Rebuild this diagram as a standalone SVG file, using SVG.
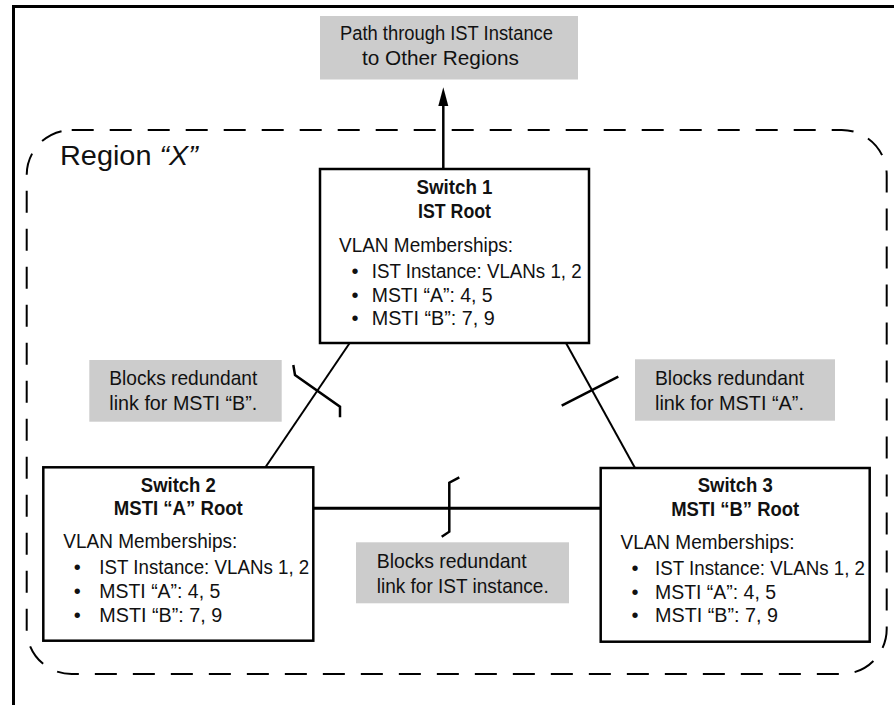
<svg xmlns="http://www.w3.org/2000/svg" width="894" height="705" viewBox="0 0 894 705">
<style>
text{font-family:"Liberation Sans",Arial,sans-serif;fill:#111}
.t{font-size:20px}
.b{font-size:20px;font-weight:bold;text-anchor:middle}
.g{font-size:21px}
.bl{font-size:20px;text-anchor:middle}
.box{fill:#fff;stroke:#000;stroke-width:2.5}
.note{fill:#cccccc}
.ln{stroke:#000;fill:none;stroke-linecap:butt}
</style>
<rect x="0" y="0" width="894" height="705" fill="#fff"/>
<g id="frame">
<line x1="12" y1="6.5" x2="894" y2="6.5" stroke="#000" stroke-width="3"/>
<line x1="13.5" y1="5" x2="13.5" y2="705" stroke="#000" stroke-width="3"/>
</g>
<g id="region">
<rect x="26.7" y="130" width="860" height="544" rx="45" ry="45" fill="none" stroke="#000" stroke-width="2" stroke-dasharray="22 16"/>
<text x="60" y="165" font-size="28" textLength="138" lengthAdjust="spacingAndGlyphs">Region <tspan font-style="italic">“X”</tspan></text>
</g>
<g id="path-note">
<rect class="note" x="320" y="16" width="258" height="63.5"/>
<text class="t" x="340" y="40" textLength="213" lengthAdjust="spacingAndGlyphs">Path through IST Instance</text>
<text class="t" x="362" y="65" textLength="157" lengthAdjust="spacingAndGlyphs">to Other Regions</text>
</g>
<g id="connectors">
<line class="ln" x1="443.3" y1="169" x2="443.3" y2="104" stroke-width="2.5"/>
<polygon points="443.3,87.3 438.3,106 448.3,106" fill="#000"/>
<line class="ln" x1="349.7" y1="343" x2="265.6" y2="467" stroke-width="2"/>
<line class="ln" x1="566" y1="343" x2="635" y2="468" stroke-width="2"/>
<line class="ln" x1="313.3" y1="508.3" x2="600.7" y2="508.3" stroke-width="3"/>
<polyline class="ln" points="293.3,365 295,375 340,406.7 340,417.3" stroke-width="2.5"/>
<line class="ln" x1="561.7" y1="405.7" x2="618.3" y2="376.7" stroke-width="2.5"/>
<polyline class="ln" points="459.3,477.3 449.3,482.7 449.3,531.7 441.7,536.7" stroke-width="2.5"/>
</g>
<g id="switch1">
<rect class="box" x="320" y="169" width="269" height="174"/>
<text class="b" x="454.5" y="194" textLength="76" lengthAdjust="spacingAndGlyphs">Switch 1</text>
<text class="b" x="454.5" y="218" textLength="73" lengthAdjust="spacingAndGlyphs">IST Root</text>
<text class="t" x="339" y="251.7" textLength="174" lengthAdjust="spacingAndGlyphs">VLAN Memberships:</text>
<text class="bl" x="355" y="277.7">•</text>
<text class="bl" x="355" y="301.7">•</text>
<text class="bl" x="355" y="325.3">•</text>
<text class="t" x="371.7" y="277.7" textLength="210" lengthAdjust="spacingAndGlyphs">IST Instance: VLANs 1, 2</text>
<text class="t" x="371.7" y="301.7" textLength="121" lengthAdjust="spacingAndGlyphs">MSTI “A”: 4, 5</text>
<text class="t" x="371.7" y="325.3" textLength="123" lengthAdjust="spacingAndGlyphs">MSTI “B”: 7, 9</text>
</g>
<g id="switch2">
<rect class="box" x="43.3" y="467.3" width="270" height="173.4"/>
<text class="b" x="178.3" y="491.7" textLength="75" lengthAdjust="spacingAndGlyphs">Switch 2</text>
<text class="b" x="178.3" y="515" textLength="129" lengthAdjust="spacingAndGlyphs">MSTI “A” Root</text>
<text class="t" x="63.3" y="548.3" textLength="174" lengthAdjust="spacingAndGlyphs">VLAN Memberships:</text>
<text class="bl" x="77.3" y="574.3">•</text>
<text class="bl" x="77.3" y="598.3">•</text>
<text class="bl" x="77.3" y="621.7">•</text>
<text class="t" x="99.3" y="574.3" textLength="210" lengthAdjust="spacingAndGlyphs">IST Instance: VLANs 1, 2</text>
<text class="t" x="99.3" y="598.3" textLength="121" lengthAdjust="spacingAndGlyphs">MSTI “A”: 4, 5</text>
<text class="t" x="99.3" y="621.7" textLength="123" lengthAdjust="spacingAndGlyphs">MSTI “B”: 7, 9</text>
</g>
<g id="switch3">
<rect class="box" x="600.7" y="468" width="269" height="173.7"/>
<text class="b" x="735.2" y="492.4" textLength="75" lengthAdjust="spacingAndGlyphs">Switch 3</text>
<text class="b" x="735.2" y="515.7" textLength="128" lengthAdjust="spacingAndGlyphs">MSTI “B” Root</text>
<text class="t" x="620.5" y="549" textLength="174" lengthAdjust="spacingAndGlyphs">VLAN Memberships:</text>
<text class="bl" x="635" y="575">•</text>
<text class="bl" x="635" y="599">•</text>
<text class="bl" x="635" y="622.4">•</text>
<text class="t" x="655" y="575" textLength="210" lengthAdjust="spacingAndGlyphs">IST Instance: VLANs 1, 2</text>
<text class="t" x="655" y="599" textLength="121" lengthAdjust="spacingAndGlyphs">MSTI “A”: 4, 5</text>
<text class="t" x="655" y="622.4" textLength="123" lengthAdjust="spacingAndGlyphs">MSTI “B”: 7, 9</text>
</g>
<g id="note-b">
<rect class="note" x="89.3" y="360" width="192.4" height="61.7"/>
<text class="g" x="109.3" y="385" textLength="148" lengthAdjust="spacingAndGlyphs">Blocks redundant</text>
<text class="g" x="109.3" y="410" textLength="148" lengthAdjust="spacingAndGlyphs">link for MSTI “B”.</text>
</g>
<g id="note-a">
<rect class="note" x="635" y="359.3" width="200" height="61.4"/>
<text class="g" x="655" y="385" textLength="149" lengthAdjust="spacingAndGlyphs">Blocks redundant</text>
<text class="g" x="655" y="410" textLength="149" lengthAdjust="spacingAndGlyphs">link for MSTI “A”.</text>
</g>
<g id="note-ist">
<rect class="note" x="356" y="542.3" width="213" height="61"/>
<text class="g" x="376.7" y="568.3" textLength="150" lengthAdjust="spacingAndGlyphs">Blocks redundant</text>
<text class="g" x="376.7" y="592.7" textLength="172" lengthAdjust="spacingAndGlyphs">link for IST instance.</text>
</g>
</svg>
